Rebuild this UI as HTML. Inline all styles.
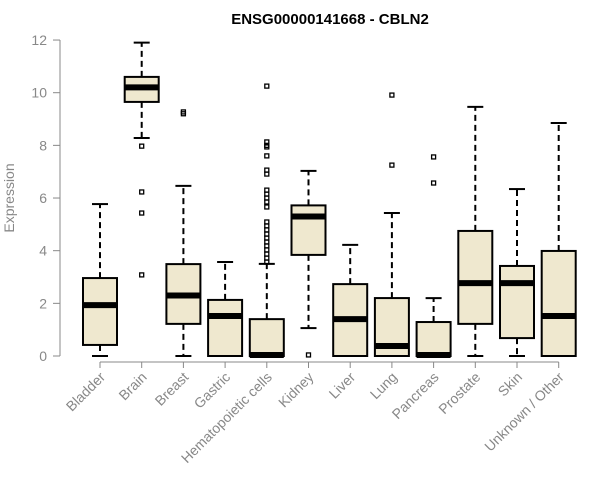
<!DOCTYPE html>
<html><head><meta charset="utf-8"><style>
body{margin:0;background:#fff;}
svg{display:block;font-family:"Liberation Sans",sans-serif;}
</style></head><body>
<svg id="chart" width="600" height="500">
<text x="330" y="24" text-anchor="middle" font-size="15" font-weight="bold">ENSG00000141668 - CBLN2</text>
<text transform="translate(14,198) rotate(-90)" text-anchor="middle" font-size="14" fill="#888">Expression</text>
</svg>
<script>
const categories=["Bladder","Brain","Breast","Gastric","Hematopoietic cells","Kidney","Liver","Lung","Pancreas","Prostate","Skin","Unknown / Other"];
const whiskerLow=[0,8.28,0,0,0,1.06,0,0,0,0,0,0];
const q1=[0.42,9.65,1.22,0,0,3.84,0,0,0,1.22,0.68,0];
const median=[1.93,10.2,2.3,1.52,0.04,5.3,1.4,0.38,0.04,2.77,2.77,1.52];
const q3=[2.96,10.6,3.49,2.13,1.4,5.72,2.73,2.2,1.29,4.75,3.42,3.99];
const whiskerHigh=[5.77,11.9,6.46,3.57,3.5,7.03,4.22,5.43,2.2,9.46,6.34,8.85];
const outliers=[[],[7.97,6.23,5.43,3.08],[9.27,9.2],[],
 [10.25,8.13,8.0,7.94,7.6,7.06,6.91,6.3,6.15,6.0,5.85,5.66,5.09,4.94,4.79,4.63,4.48,4.33,4.18,4.03,3.87,3.72,3.57],
 [0.04],[],[9.91,7.25],[7.56,6.57],[],[],[]];
const yTicks=[0,2,4,6,8,10,12];
const NS="http://www.w3.org/2000/svg";
const svg=document.getElementById('chart');
const y=v=>356-v*26.33;
const x=i=>100+i*41.7;
function mk(t,a,p){const e=document.createElementNS(NS,t);for(const k in a)e.setAttribute(k,a[k]);(p||svg).appendChild(e);return e;}
// y axis
const ax=mk('g',{});


mk('line',{x1:60,x2:60,y1:y(0),y2:y(12),stroke:'#888'},ax);
yTicks.forEach(t=>{
 mk('line',{x1:53,x2:60,y1:y(t),y2:y(t),stroke:'#888'},ax);
 const tx=mk('text',{x:47,y:y(t)+5,'text-anchor':'end','font-size':14,fill:'#888'},ax);
 tx.textContent=t;
 
 
});
mk('line',{x1:x(0),x2:x(categories.length-1),y1:362,y2:362,stroke:'#888'},ax);
categories.forEach((c,i)=>{
 const cx=x(i),w=17;
 const g=mk('g',{});
 
 
 mk('line',{x1:cx,x2:cx,y1:y(q3[i]),y2:y(whiskerHigh[i]),stroke:'#000','stroke-width':2,'stroke-dasharray':'6,4'},g);
 mk('line',{x1:cx,x2:cx,y1:y(q1[i]),y2:y(whiskerLow[i]),stroke:'#000','stroke-width':2,'stroke-dasharray':'6,4'},g);
 mk('line',{x1:cx-8,x2:cx+8,y1:y(whiskerHigh[i]),y2:y(whiskerHigh[i]),stroke:'#000','stroke-width':2},g);
 mk('line',{x1:cx-8,x2:cx+8,y1:y(whiskerLow[i]),y2:y(whiskerLow[i]),stroke:'#000','stroke-width':2},g);
 mk('rect',{x:cx-w,y:y(q3[i]),width:2*w,height:Math.max(0.5,y(q1[i])-y(q3[i])),fill:'#efe8cf',stroke:'#000','stroke-width':2},g);
 mk('line',{x1:cx-w,x2:cx+w,y1:y(median[i]),y2:y(median[i]),stroke:'#000','stroke-width':6},g);
 mk('line',{x1:cx,x2:cx,y1:362,y2:368,stroke:'#888'},ax);
 outliers[i].forEach(o=>{mk('rect',{x:cx-2,y:y(o)-2,width:4,height:4,fill:'none',stroke:'#000','stroke-width':1.3},g);});
 const t=mk('text',{x:cx+6,y:378,'text-anchor':'end','font-size':14,fill:'#888',transform:`rotate(-45 ${cx+6} 378)`});
 t.textContent=c;
 
 
});
</script>
</body></html>
